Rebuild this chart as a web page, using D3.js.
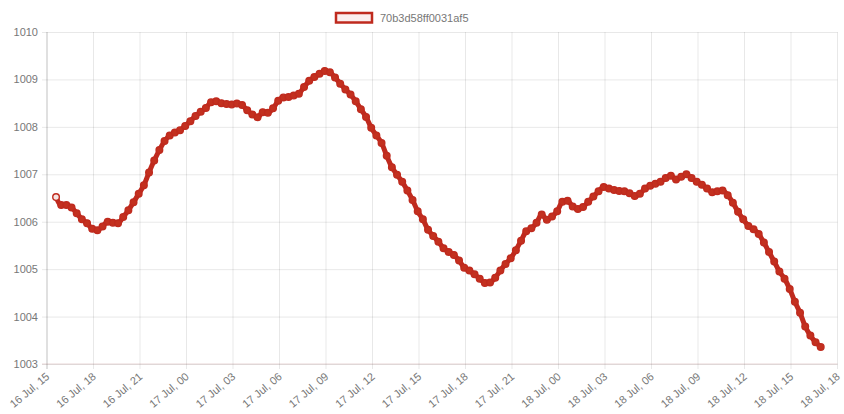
<!DOCTYPE html>
<html>
<head>
<meta charset="utf-8">
<script src="https://cdn.jsdelivr.net/npm/d3@7"></script>
<style>
  html, body { margin: 0; padding: 0; background: #fff; }
  svg { display: block; font-family: "Liberation Sans", Arial, sans-serif; }
</style>
</head>
<body>
<svg id="chart" width="844" height="414"></svg>
<script>
// ---- data ----
const seriesName = "70b3d58ff0031af5";
const startTime = "2019-07-16T15:35:00Z";
const stepMinutes = 20;
const values = [
  1006.52, 1006.35, 1006.35, 1006.30, 1006.18, 1006.05, 1005.97, 1005.85, 1005.82, 1005.90,
  1006.00, 1005.98, 1005.97, 1006.10, 1006.24, 1006.41, 1006.59, 1006.77, 1007.04, 1007.29,
  1007.51, 1007.70, 1007.82, 1007.88, 1007.93, 1008.02, 1008.12, 1008.23, 1008.32, 1008.40,
  1008.52, 1008.54, 1008.50, 1008.48, 1008.47, 1008.49, 1008.46, 1008.35, 1008.26, 1008.20,
  1008.31, 1008.30, 1008.39, 1008.55, 1008.62, 1008.63, 1008.66, 1008.70, 1008.84, 1008.97,
  1009.05, 1009.12, 1009.18, 1009.15, 1009.04, 1008.91, 1008.79, 1008.68, 1008.54, 1008.37,
  1008.21, 1007.98, 1007.82, 1007.66, 1007.39, 1007.15, 1006.99, 1006.84, 1006.66, 1006.46,
  1006.22, 1006.05, 1005.83, 1005.70, 1005.58, 1005.44, 1005.36, 1005.30, 1005.18, 1005.03,
  1004.97, 1004.89, 1004.80, 1004.71, 1004.72, 1004.82, 1004.97, 1005.11, 1005.23, 1005.40,
  1005.60, 1005.80, 1005.86, 1005.98, 1006.15, 1006.04, 1006.11, 1006.22, 1006.42, 1006.44,
  1006.32, 1006.27, 1006.31, 1006.42, 1006.53, 1006.64, 1006.73, 1006.70, 1006.67, 1006.65,
  1006.64, 1006.60, 1006.54, 1006.59, 1006.70, 1006.76, 1006.80, 1006.84, 1006.92, 1006.97,
  1006.89, 1006.95, 1007.00, 1006.92, 1006.84, 1006.78, 1006.70, 1006.62, 1006.64, 1006.66,
  1006.56, 1006.40, 1006.21, 1006.05, 1005.91, 1005.84, 1005.74, 1005.56, 1005.36, 1005.16,
  1004.95, 1004.80, 1004.58, 1004.31, 1004.08, 1003.79, 1003.60, 1003.46, 1003.36
];
const xDomain = ["2019-07-16T15:00:00Z", "2019-07-18T18:00:00Z"];
const yDomain = [1003, 1010];
const yTicks = [1003, 1004, 1005, 1006, 1007, 1008, 1009, 1010];

(function () {
  const t0 = new Date(startTime).getTime();
  const data = values.map((v, i) => ({ t: new Date(t0 + i * stepMinutes * 60000), v }));

  const svg = d3.select("#chart");
  const mLeft = 47, mRight = 837.5, mTop = 32, mBottom = 364;

  const x = d3.scaleUtc().domain(xDomain.map(d => new Date(d))).range([mLeft, mRight]);
  const y = d3.scaleLinear().domain(yDomain).range([mBottom, mTop]);

  const gridColor = "rgba(0,0,0,0.09)";
  const textColor = "#777";
  const red = "#bf2a1e";

  // horizontal grid + y labels
  const yAxis = d3.axisLeft(y).tickValues(yTicks).tickFormat(d3.format("d"))
    .tickSize(mRight - mLeft + 5).tickPadding(4);
  const gy = svg.append("g").attr("transform", `translate(${mRight},0)`).call(yAxis);
  gy.select(".domain").remove();
  gy.selectAll(".tick line").attr("stroke", gridColor);
  gy.selectAll(".tick text").attr("fill", textColor).style("font-size", "11px")
    .attr("font-family", "Liberation Sans, Arial, sans-serif");

  // vertical grid + x labels
  const xTicks = d3.utcHour.every(3).range(x.domain()[0], new Date(x.domain()[1].getTime() + 1));
  const fmt = d3.utcFormat("%d %b, %H");
  const gx = svg.append("g");
  gx.selectAll("line").data(xTicks).join("line")
    .attr("x1", d => x(d)).attr("x2", d => x(d))
    .attr("y1", mTop).attr("y2", mBottom + 5)
    .attr("stroke", gridColor);
  gx.selectAll("text").data(xTicks).join("text")
    .attr("transform", d => `translate(${x(d) + 1},${mBottom + 11}) rotate(-40)`)
    .attr("text-anchor", "end")
    .attr("dy", "0.32em")
    .attr("fill", textColor)
    .style("font-size", "11px")
    .text(d => fmt(d));

  // axis lines
  svg.append("line").attr("x1", mLeft).attr("x2", mLeft).attr("y1", mTop).attr("y2", mBottom + 5)
    .attr("stroke", "rgba(0,0,0,0.16)");
  svg.append("line").attr("x1", mLeft - 5).attr("x2", mRight).attr("y1", mBottom).attr("y2", mBottom)
    .attr("stroke", "rgba(180,120,120,0.3)");

  // line
  const line = d3.line().x(d => x(d.t)).y(d => y(d.v)).curve(d3.curveMonotoneX);
  svg.append("path").datum(data)
    .attr("d", line).attr("fill", "none")
    .attr("stroke", red).attr("stroke-width", 5).attr("stroke-linejoin", "round");

  // points
  svg.append("g").selectAll("circle").data(data).join("circle")
    .attr("cx", d => x(d.t)).attr("cy", d => y(d.v))
    .attr("r", 3.3)
    .attr("fill", (d, i) => i === 0 ? "#f6e4e2" : "#c3301f")
    .attr("stroke", red).attr("stroke-width", 1.4);

  // legend
  const lg = svg.append("g");
  lg.append("rect").attr("x", 336).attr("y", 13).attr("width", 36).attr("height", 9.5)
    .attr("fill", "#fbeeee").attr("stroke", red).attr("stroke-width", 2.5);
  lg.append("text").attr("x", 380).attr("y", 18).attr("dy", "0.35em")
    .attr("fill", textColor).style("font-size", "11px").text(seriesName);
})();
</script>
</body>
</html>
